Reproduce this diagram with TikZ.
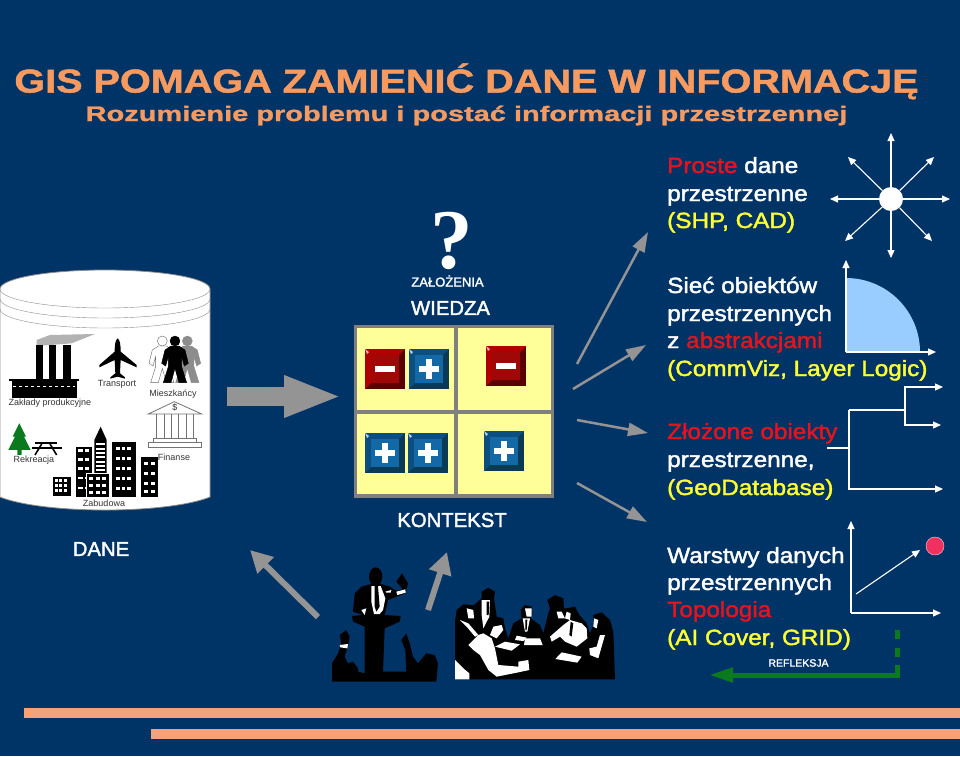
\documentclass[tikz,border=0pt]{standalone}
\usepackage{fontspec}
\setmainfont{Liberation Sans}
\newfontfamily\fatfont[FakeBold=1.8]{Liberation Sans}
\newfontfamily\widefont[FakeBold=1.8,FakeStretch=1.105]{Liberation Sans}
\newfontfamily\titlefont[FakeBold=1.5,FakeStretch=1.2]{Liberation Sans}
\newfontfamily\subtitlefont[FakeBold=1.2,FakeStretch=1.38]{Liberation Sans}
\newfontfamily\askfont{Liberation Serif}
\usetikzlibrary{positioning,arrows.meta}
\definecolor{bgblue}{HTML}{003366}
\definecolor{salmon}{HTML}{F79A60}
\definecolor{stripe}{HTML}{F4A27C}
\definecolor{txtred}{HTML}{E4141E}
\definecolor{txtyellow}{HTML}{FFFF33}
\definecolor{cellyellow}{HTML}{FFFF99}
\definecolor{framegray}{HTML}{808080}
\definecolor{arrowgray}{HTML}{949494}
\definecolor{quarterblue}{HTML}{99CCFF}
\definecolor{treegreen}{HTML}{0B7A1E}
\definecolor{dotred}{HTML}{F0305F}
\definecolor{plusdark}{HTML}{0A3A55}
\definecolor{plusedge}{HTML}{0B4F80}
\definecolor{plusface}{HTML}{1269A5}
\definecolor{minusdark}{HTML}{5A0000}
\definecolor{minusedge}{HTML}{B00000}
\definecolor{minusface}{HTML}{A00808}
\newcommand{\px}[1]{\fontsize{#1}{#1}\selectfont}
\newcommand{\red}[1]{\textcolor{txtred}{#1}}
\newcommand{\yel}[1]{\textcolor{txtyellow}{#1}}
\newcommand{\bevel}[6]{
  \fill[#3] (#1,#2) rectangle ++(40,40);
  \fill[#4] (#1,#2) -- ++(40,0) -- ++(-6,6) -- ++(-28,0) -- ++(0,28) -- ++(-6,6) -- cycle;
  \fill[#5] (#1+6,#2+6) rectangle ++(28,28);
  \fill[white!70!#5] (#1,#2) -- ++(4,3) -- ++(-2,2) -- cycle;
  #6
}
\newcommand{\plusbtn}[2]{\bevel{#1}{#2}{plusdark}{plusedge}{plusface}{
  \fill[white] (#1+10,#2+17) rectangle ++(20,6);
  \fill[white] (#1+17,#2+10) rectangle ++(6,20);}}
\newcommand{\minusbtn}[2]{\bevel{#1}{#2}{minusdark}{minusedge}{minusface}{
  \fill[white] (#1+10,#2+17) rectangle ++(20,6);}}
\newcommand{\person}[3]{
  \filldraw[fill=#2,draw=#3] (#1,243) circle (15);
  \filldraw[fill=#2,draw=#3] (#1-12,258) -- (#1+12,258) -- (#1+30,270) -- (#1+40,310) -- (#1+28,318) -- (#1+20,290) -- (#1+20,320) -- (#1+35,368) -- (#1+12,368) -- (#1,325) -- (#1-12,368) -- (#1-35,368) -- (#1-20,320) -- (#1-20,290) -- (#1-28,318) -- (#1-40,310) -- (#1-30,270) -- cycle;
}
\begin{document}
\begin{tikzpicture}[x=1pt,y=-1pt,
  txt/.style={anchor=base west,inner sep=0pt,text=white,font=\widefont\px{22}},
  lbl/.style={inner sep=0pt,text=black!80,font=\px{9}},
  head/.style={inner sep=0pt,text=white,font=\fatfont\px{20.3}},
  bigarrow/.style={arrowgray,line width=2.5pt,-{Triangle[length=20pt,width=13pt]}},
  fatarrow/.style={arrowgray,line width=6pt,-{Triangle[length=22pt,width=22pt]}},
  thin arrow/.style={white,line width=1.1pt,-{Triangle[length=8pt,width=7pt]}}]
  \useasboundingbox (0,0) rectangle (960,756);
  \fill[bgblue] (0,0) rectangle (960,756);

  \node (title) [anchor=base,inner sep=0pt,text=salmon,font=\titlefont\bfseries\px{33}] at (466.5,92.5) {GIS POMAGA ZAMIENIĆ DANE W INFORMACJĘ};
  \node (subtitle) [anchor=base,inner sep=0pt,text=salmon,font=\subtitlefont\bfseries\px{21}] at (466.5,121) {Rozumienie problemu i postać informacji przestrzennej};

  \filldraw[fill=white,draw=black!45,thick] (0,289) -- (0,497) .. controls (20,505) and (60,510) .. (105,510) .. controls (150,510) and (190,505) .. (210,497) -- (210,289) arc[start angle=0,end angle=-180,x radius=105,y radius=19];
  \draw[black!45] (0,289) arc[start angle=180,end angle=0,x radius=105,y radius=19];
  \draw[black!45] (0,299) arc[start angle=180,end angle=0,x radius=105,y radius=19];
  \draw[black!45] (0,309) arc[start angle=180,end angle=0,x radius=105,y radius=19];

  \begin{scope}[shift={(0,260)},x=0.3333pt,y=-0.3333pt]
    \fill[black!30] (110,240) -- (150,225) -- (285,222) -- (215,250) -- (110,258) -- cycle;
    \fill (108,255) rectangle (128,360);
    \fill (147,255) rectangle (167,360);
    \fill (190,255) rectangle (212,360);
    \fill (27,356) rectangle (238,362);
    \fill (35,362) rectangle (230,415);
    \draw[white,line width=1pt,dashed] (40,380) -- (225,380);

    \fill (353,235) .. controls (360,240) and (362,255) .. (362,275) -- (410,315) -- (410,322) -- (362,300) -- (360,340) -- (375,352) -- (375,356) -- (353,350) -- (331,356) -- (331,352) -- (346,340) -- (344,300) -- (298,322) -- (298,315) -- (344,275) .. controls (344,255) and (346,240) .. (353,235) -- cycle;

    \person{487}{white}{black!60}
    \person{562}{black!45}{black!45}
    \person{525}{black}{black}

    \draw[black!55,thick] (445,462) -- (523,425) -- (605,462) -- cycle;
    \foreach \colx in {470,492,514,536,558,580}
      \draw[black!55,thick] (\colx,462) -- (\colx,535);
    \draw[black!55,thick] (460,535) rectangle (590,548);
    \draw[black!55,thick] (445,548) rectangle (605,562);
    \node (dollar) [lbl] at (525,441) {\$};

    \fill[treegreen] (58,490) -- (78,530) -- (72,530) -- (92,570) -- (65,570) -- (65,585) -- (52,585) -- (52,570) -- (25,570) -- (45,530) -- (38,530) -- cycle;
    \fill (105,545) rectangle (172,552);
    \fill (95,560) rectangle (185,566);
    \draw[line width=1.6pt] (125,552) -- (105,585);
    \draw[line width=1.6pt] (150,552) -- (170,585);

    \fill (158,650) rectangle (212,708);
    \foreach \wx in {164,178,192}
      \foreach \wy in {658,672,686}
        \fill[white] (\wx,\wy) rectangle ++(9,9);
    \fill (228,560) rectangle (275,710);
    \foreach \wy in {568,595,622,650,680}
      \foreach \wx in {235,254}
        \fill[white] (\wx,\wy) rectangle ++(13,8);
    \fill (283,640) -- (283,540) -- (302,500) -- (320,540) -- (320,640) -- cycle;
    \foreach \wy in {550,563,576,589,602,615,628}
      \fill[white] (288,\wy) rectangle (315,\wy+6);
    \fill (335,545) rectangle (408,710);
    \foreach \wy in {560,590,620,650,680}
      \foreach \wx in {348,365,382}
        \fill[white] (\wx,\wy) rectangle ++(11,10);
    \fill (423,590) rectangle (473,710);
    \foreach \wy in {605,635,665,690}
      \foreach \wx in {432,452}
        \fill[white] (\wx,\wy) rectangle ++(12,9);
    \filldraw[fill=black,draw=white] (260,640) rectangle (328,712);
    \foreach \wy in {650,672,694}
      \foreach \wx in {268,288,307}
        \fill[white] (\wx,\wy) rectangle ++(12,9);
  \end{scope}

  \node (plants) [lbl] at (50,403) {Zakłady produkcyjne};
  \node (transport) [lbl] at (117,384) {Transport};
  \node (residents) [lbl] at (173,394) {Mieszkańcy};
  \node (finance) [lbl] at (174,457) {Finanse};
  \node (leisure) [lbl] at (34,460) {Rekreacja};
  \node (housing) [lbl] at (104,503) {Zabudowa};
  \node (data) [head] at (101,549) {DANE};

  \coordinate (bigstart) at (227,396.5);
  \coordinate (bigend) at (342,396.5);
  \draw[arrowgray,line width=19pt,-{Triangle[length=58pt,width=38pt]}] (bigstart) -- (bigend);

  \node (ask) [anchor=base,inner sep=0pt,text depth=0pt,text=white,font=\askfont\bfseries\px{85}] at (452,268) {?};
  \node (assume) [inner sep=0pt,text=white,font=\fatfont\px{13}] at (447.5,281) {ZAŁOŻENIA};
  \node (know) [head] at (450.5,308) {WIEDZA};
  \node (context) [head] at (452,520) {KONTEKST};

  \filldraw[fill=cellyellow,draw=framegray,line width=3.5pt] (355.5,326.5) rectangle (552.5,496);
  \draw[framegray,line width=3.5pt] (456,326.5) -- (456,496);
  \draw[framegray,line width=3.5pt] (355.5,412) -- (552.5,412);
  \minusbtn{365}{349}
  \plusbtn{409}{349}
  \minusbtn{486}{346}
  \plusbtn{365}{433}
  \plusbtn{408}{433}
  \plusbtn{484}{431}

  \coordinate (fromaudience) at (318,617);
  \coordinate (todata) at (250,550);
  \coordinate (frommeeting) at (428,610);
  \coordinate (tocontext) at (447,552);
  \draw[fatarrow] (fromaudience) -- (todata);
  \draw[fatarrow] (frommeeting) -- (tocontext);

  \begin{scope}[shift={(328,560)},x=0.3333pt,y=-0.3333pt]
    \fill (143,50) ellipse[x radius=20,y radius=28];
    \fill (12,365) -- (12,310) -- (30,280) -- (40,250) -- (35,225) -- (55,210) -- (65,230) -- (60,255) -- (50,290) -- (60,310) -- (75,305) -- (90,325) -- (90,335) -- (110,340) -- (110,200) -- (75,185) -- (72,168) -- (105,165) -- (75,155) -- (80,100) -- (100,80) -- (130,72) -- (160,72) -- (185,80) -- (205,92) -- (225,88) -- (205,65) -- (222,40) -- (240,70) -- (232,100) -- (180,120) -- (170,165) -- (218,168) -- (215,185) -- (170,205) -- (165,335) -- (235,335) -- (232,270) -- (220,240) -- (235,220) -- (245,250) -- (255,290) -- (270,310) -- (295,280) -- (320,285) -- (330,310) -- (325,365) -- cycle;
    \fill[white] (130,78) -- (158,78) -- (172,115) -- (165,150) -- (155,162) -- (138,162) -- (130,125) -- cycle;
    \fill (140,78) -- (150,78) -- (155,140) -- (145,155) -- (140,140) -- cycle;
    \fill[white] (205,95) -- (232,88) -- (233,98) -- (208,105) -- cycle;
    \fill[white] (35,255) -- (60,252) -- (58,265) -- (37,262) -- cycle;
    \fill[white] (172,95) -- (190,90) -- (188,98) -- (175,98) -- cycle;
    \fill[white] (100,150) -- (115,145) -- (110,165) -- cycle;
  \end{scope}

  \begin{scope}[shift={(450,585)},x=0.3333pt,y=-0.3333pt]
    \fill (15,283) -- (15,110) -- (20,75) -- (40,58) -- (65,60) -- (72,60) -- (95,40) -- (95,20) -- (115,8) -- (135,20) -- (132,40) -- (135,60) -- (140,95) -- (160,100) -- (165,130) -- (175,160) -- (190,115) -- (215,100) -- (212,75) -- (225,60) -- (245,65) -- (247,90) -- (242,100) -- (270,120) -- (280,145) -- (295,85) -- (300,70) -- (292,45) -- (315,30) -- (340,40) -- (342,70) -- (350,70) -- (375,65) -- (388,90) -- (410,115) -- (420,145) -- (430,120) -- (430,90) -- (455,82) -- (480,105) -- (490,140) -- (495,283) -- cycle;
    \fill[white] (55,180) -- (85,150) -- (100,145) -- (125,160) -- (135,190) -- (145,240) -- (205,245) -- (205,230) -- (235,225) -- (238,255) -- (205,262) -- (140,275) -- (115,255) -- (90,210) -- (70,195) -- cycle;
    \fill[white] (15,225) -- (40,250) -- (58,265) -- (58,283) -- (15,283) -- cycle;
    \fill[white] (30,105) -- (55,115) -- (85,150) -- (75,155) -- (50,125) -- cycle;
    \fill[white] (50,70) -- (70,75) -- (72,100) -- (55,100) -- cycle;
    \fill[white] (95,45) -- (120,45) -- (118,95) -- (100,130) -- (95,90) -- cycle;
    \fill (110,50) -- (118,50) -- (116,90) -- (110,90) -- cycle;
    \fill[white] (135,185) -- (165,170) -- (210,178) -- (185,197) -- cycle;
    \fill[white] (225,160) -- (270,160) -- (278,180) -- (222,180) -- cycle;
    \fill[white] (316,222) -- (335,202) -- (395,215) -- (382,233) -- cycle;
    \fill[white] (225,70) -- (245,70) -- (245,95) -- (230,95) -- cycle;
    \fill[white] (218,100) -- (240,100) -- (232,140) -- (225,140) -- cycle;
    \fill (226,104) -- (232,104) -- (230,135) -- (226,135) -- cycle;
    \fill[white] (200,152) -- (230,158) -- (220,168) -- (195,165) -- cycle;
    \fill[white] (320,80) -- (335,80) -- (345,100) -- (325,100) -- cycle;
    \fill[white] (300,155) -- (340,120) -- (360,105) -- (395,115) -- (410,130) -- (412,160) -- (380,185) -- (345,170) -- (330,155) -- (305,170) -- cycle;
    \fill (362,110) -- (370,115) -- (365,155) -- (358,150) -- cycle;
    \fill[white] (350,80) -- (362,85) -- (360,105) -- (345,100) -- cycle;
    \fill[white] (450,150) -- (465,150) -- (455,185) -- (445,220) -- (420,210) -- (418,190) -- (440,185) -- cycle;
    \fill[white] (432,100) -- (445,105) -- (440,130) -- (430,125) -- cycle;
    \fill[white] (130,125) -- (155,120) -- (160,135) -- (140,160) -- (120,150) -- cycle;
  \end{scope}

  \coordinate (a1s) at (577,364);
  \coordinate (a1e) at (648,232);
  \coordinate (a2s) at (573,389);
  \coordinate (a2e) at (646,345);
  \coordinate (a3s) at (577,420);
  \coordinate (a3e) at (648,433);
  \coordinate (a4s) at (577,483);
  \coordinate (a4e) at (647,522);
  \draw[bigarrow] (a1s) -- (a1e);
  \draw[bigarrow] (a2s) -- (a2e);
  \draw[bigarrow] (a3s) -- (a3e);
  \draw[bigarrow] (a4s) -- (a4e);

  \node (simple1) [txt] at (667,173) {\red{Proste} dane};
  \node (simple2) [txt] at (667,201) {przestrzenne};
  \node (simple3) [txt] at (667,228) {\yel{(SHP, CAD)}};
  \node (net1) [txt] at (667,293) {Sieć obiektów};
  \node (net2) [txt] at (667,321) {przestrzennych};
  \node (net3) [txt] at (667,348) {z \red{abstrakcjami}};
  \node (net4) [txt] at (667,376) {\yel{(CommViz, Layer Logic)}};
  \node (comp1) [txt] at (667,439) {\red{Złożone obiekty}};
  \node (comp2) [txt] at (667,467) {przestrzenne,};
  \node (comp3) [txt] at (667,495) {\yel{(GeoDatabase)}};
  \node (layer1) [txt] at (667,563) {Warstwy danych};
  \node (layer2) [txt] at (667,590) {przestrzennych};
  \node (layer3) [txt] at (667,617) {\red{Topologia}};
  \node (layer4) [txt] at (667,645) {\yel{(AI Cover, GRID)}};

  \node (hub) [circle,fill=white,inner sep=0pt,minimum size=24pt] at (891,199) {};
  \foreach \tipx/\tipy [count=\i] in {891/133,950/199,891/258,830/199,848/157,934/157,845/241,932/241}
    \coordinate (tip\i) at (\tipx,\tipy);
  \foreach \i in {1,...,8}
    \draw[thin arrow] (hub) -- (tip\i);

  \coordinate (qorigin) at (846,352);
  \coordinate (qup) at (846,260);
  \coordinate (qright) at (936,352);
  \fill[quarterblue] (qorigin) -- (846,278) arc[start angle=90,end angle=0,radius=74,y radius=-74] -- cycle;
  \draw[thin arrow] (qorigin) -- (qup);
  \draw[thin arrow] (qorigin) -- (qright);

  \coordinate (t0) at (827,448);
  \coordinate (t1) at (849,448);
  \coordinate (t2) at (849,410);
  \coordinate (t3) at (905,410);
  \coordinate (t4) at (849,489);
  \coordinate (t5) at (943,489);
  \coordinate (t6) at (905,387);
  \coordinate (t7) at (943,387);
  \coordinate (t8) at (905,425);
  \coordinate (t9) at (941,425);
  \draw[white,line width=1.1pt] (t0) -- (t1);
  \draw[white,line width=1.1pt] (t2) -- (t3);
  \draw[thin arrow] (t2) -- (t4) -- (t5);
  \draw[thin arrow] (t3) -- (t6) -- (t7);
  \draw[thin arrow] (t3) -- (t8) -- (t9);

  \coordinate (gorigin) at (851,613);
  \coordinate (gup) at (851,521);
  \coordinate (gright) at (941,613);
  \coordinate (gfrom) at (856,594);
  \coordinate (gto) at (920,550);
  \draw[thin arrow] (gorigin) -- (gup);
  \draw[thin arrow] (gorigin) -- (gright);
  \draw[thin arrow] (gfrom) -- (gto);
  \node (dot) [circle,fill=dotred,draw=white!80!dotred,inner sep=0pt,minimum size=18pt] at (935,546) {};

  \coordinate (gtop) at (897,630);
  \coordinate (gcorner) at (897,675);
  \coordinate (gleft) at (709,675);
  \draw[treegreen,line width=5pt,dash pattern=on 9pt off 9pt] (gtop) -- (gcorner);
  \draw[treegreen,line width=5pt,-{Triangle[length=24pt,width=14pt]}] (897,665) -- (gcorner) -- (gleft);
  \node (reflect) [inner sep=0pt,text=white,font=\fatfont\px{10.5}] at (798.5,663) {REFLEKSJA};

  \fill[stripe] (24,708) rectangle (960,718);
  \fill[stripe] (151,729) rectangle (960,739);
\end{tikzpicture}
\end{document}
